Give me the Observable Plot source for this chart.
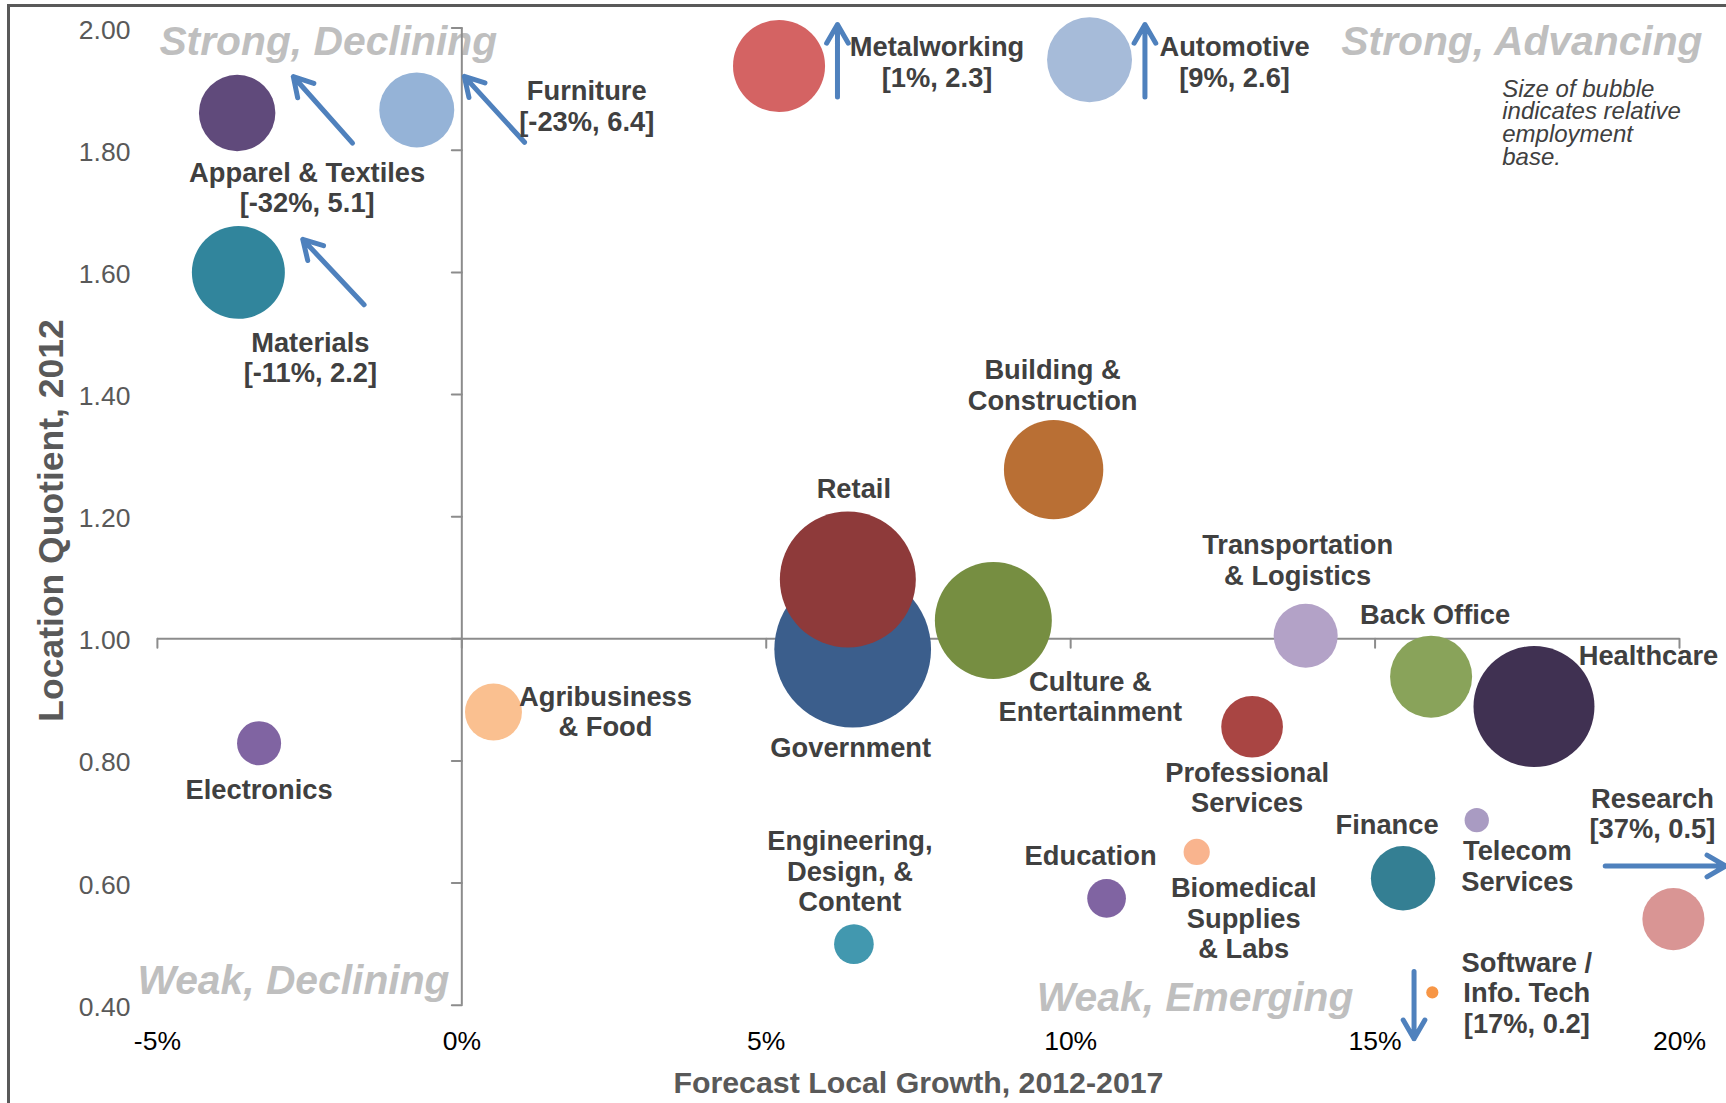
<!DOCTYPE html>
<html>
<head>
<meta charset="utf-8">
<script src="https://cdn.jsdelivr.net/npm/d3@7"></script>
<script src="https://cdn.jsdelivr.net/npm/@observablehq/plot@0.6"></script>
<style>
  html, body { margin: 0; padding: 0; background: #fff; }
  #wrap { position: relative; width: 1726px; height: 1103px; overflow: hidden; background: #fff; }
  #chart { position: absolute; left: 0; top: 0; }
  #border { position: absolute; left: 7px; top: 4px; width: 1800px; height: 1200px;
            border-left: 3px solid #595959; border-top: 3px solid #595959; pointer-events: none; }
</style>
</head>
<body>
<div id="wrap"><div id="chart"></div><div id="border"></div></div>
<script>
// ---- data ----
const clusters = [
  "Apparel & Textiles", "Furniture", "Materials", "Metalworking", "Automotive",
  "Electronics", "Agribusiness & Food", "Government", "Retail", "Culture & Entertainment",
  "Building & Construction", "Engineering, Design, & Content", "Education",
  "Transportation & Logistics", "Back Office", "Healthcare", "Professional Services",
  "Telecom Services", "Biomedical Supplies & Labs", "Finance", "Research", "Software / Info. Tech"
];
// plotted forecast local growth 2012-2017 (%) (off-chart clusters are shown at the chart edge)
const growth = [-3.69, -0.74, -3.67, 5.21, 10.31, -3.33, 0.52, 6.42, 6.34, 8.73, 9.72,
                6.44, 10.59, 13.86, 15.92, 17.61, 12.98, 16.67, 12.07, 15.46, 19.90, 15.94];
// plotted location quotient 2012
const locationQuotient = [1.861, 1.866, 1.600, 1.938, 1.948, 0.829, 0.880, 0.983, 1.097, 1.030, 1.277,
                          0.500, 0.575, 1.005, 0.938, 0.889, 0.856, 0.703, 0.651, 0.608, 0.541, 0.421];
// relative employment base (index, Government = 100)
const employment = [23.8, 22.9, 35.2, 34.5, 29.4, 7.9, 13.2, 100, 75.3, 55.7, 40.2,
                    6.4, 6.1, 16.7, 27.4, 59.6, 15.5, 2.4, 2.8, 16.9, 15.7, 0.6];
const labelTexts = [
  "Apparel & Textiles\n[-32%, 5.1]", "Furniture\n[-23%, 6.4]", "Materials\n[-11%, 2.2]",
  "Metalworking\n[1%, 2.3]", "Automotive\n[9%, 2.6]", "Electronics", "Agribusiness\n& Food",
  "Government", "Retail", "Culture &\nEntertainment", "Building &\nConstruction",
  "Engineering,\nDesign, &\nContent", "Education", "Transportation\n& Logistics", "Back Office",
  "Healthcare", "Professional\nServices", "Telecom\nServices", "Biomedical\nSupplies\n& Labs",
  "Finance", "Research\n[37%, 0.5]", "Software /\nInfo. Tech\n[17%, 0.2]"
];
const xTicks = [-5, 0, 5, 10, 15, 20];
const yTicks = [0.4, 0.6, 0.8, 1.0, 1.2, 1.4, 1.6, 1.8, 2.0];
const quadrantLabels = ["Strong, Declining", "Strong, Advancing", "Weak, Declining", "Weak, Emerging"];
const noteText = "Size of bubble\nindicates relative\nemployment\nbase.";
// arrows pointing toward off-chart true positions (data units)
const arrowAnnotations = [
  {x1: -1.795, y1: 1.8115, x2: -2.768, y2: 1.9207},
  {x1: 1.03, y1: 1.813, x2: 0.041, y2: 1.921},
  {x1: -1.605, y1: 1.547, x2: -2.612, y2: 1.654},
  {x1: 6.17, y1: 1.887, x2: 6.17, y2: 2.006},
  {x1: 11.22, y1: 1.887, x2: 11.22, y2: 2.006},
  {x1: 18.78, y1: 0.628, x2: 20.76, y2: 0.628},
  {x1: 15.64, y1: 0.455, x2: 15.64, y2: 0.345}
];

// ---- styles ----
const bubbleColors = ["#604A7B","#95B3D7","#31859C","#D46363","#A6BBD9","#8064A2","#FAC090",
  "#3B5E8C","#8E3A3A","#768E41","#B96F34","#4298AF","#8064A2","#B3A2C7","#89A35A","#403152",
  "#A94543","#A99BC2","#F9B48E","#347F93","#D99594","#F79646"];
// label offsets from bubble centre, in pixels
const labelOffsets = [[70,75.5],[170,-3],[72,86],[158,-3],[145,3],[0,47],[112,0],[-2,99.5],
  [6,-90.5],[97,77],[-1,-84],[-4,-72],[-16,-42],[-8,-75],[4,-61],[114.5,-50.5],[-5,61.5],
  [40.6,46.5],[47,67],[-16,-53],[-21,-105],[94.5,1]];

const axisGray = "#8C8C8C";
const labelColor = "#404040";
const font = "'Liberation Sans', Arial, sans-serif";

const bubbles = clusters.map((name, i) => ({
  name, x: growth[i], y: locationQuotient[i], size: employment[i], color: bubbleColors[i], i
}));

const labelMarks = bubbles.map((b, i) => Plot.text([b], {
  x: "x", y: "y", text: d => labelTexts[d.i],
  dx: labelOffsets[i][0], dy: labelOffsets[i][1] - 1,
  fontSize: 27.3, fontWeight: "bold", fill: labelColor,
  textAnchor: "middle", lineAnchor: "middle", lineHeight: 1.117
}));

const quadStyle = {fontSize: 40.8, fontWeight: "bold", fontStyle: "italic", fill: "#BFBFBF", lineHeight: 1, text: d => d};

const chart = Plot.plot({
  width: 1726, height: 1103,
  marginLeft: 156.9, marginRight: 47, marginTop: 27.6, marginBottom: 98.3,
  x: {domain: [-5, 20]},
  y: {domain: [0.4, 2.0]},
  r: {type: "sqrt", domain: [0, 100], range: [0, 78.35]},
  style: {fontFamily: font, background: "white", overflow: "visible"},
  marks: [
    // quadrant labels
    Plot.text([quadrantLabels[0]], {...quadStyle, frameAnchor: "top-left", textAnchor: "start", lineAnchor: "top", dx: 2, dy: -2}),
    Plot.text([quadrantLabels[1]], {...quadStyle, frameAnchor: "top-right", textAnchor: "end", lineAnchor: "top", dx: 23, dy: -2}),
    Plot.text([quadrantLabels[2]], {...quadStyle, frameAnchor: "bottom-left", textAnchor: "start", lineAnchor: "bottom", dx: -20, dy: -11.4}),
    Plot.text([quadrantLabels[3]], {...quadStyle, frameAnchor: "bottom", textAnchor: "end", lineAnchor: "bottom", dx: 435, dy: 6}),
    // axes crossing at (0%, 1.00)
    Plot.ruleY([1], {x1: -5, x2: 20, stroke: axisGray, strokeWidth: 2}),
    Plot.ruleX([0], {y1: 0.4, y2: 2.0, stroke: axisGray, strokeWidth: 2}),
    Plot.vector(xTicks, {x: d => d, y: () => 1, length: 9, rotate: 180, anchor: "start", r: 0, stroke: axisGray, strokeWidth: 2}),
    Plot.vector(yTicks, {x: () => 0, y: d => d, length: 10, rotate: 270, anchor: "start", r: 0, stroke: axisGray, strokeWidth: 2}),
    Plot.axisY({ticks: yTicks, tickFormat: d3.format(".2f"), tickSize: 0, tickPadding: 27, dy: 2,
                fontSize: 26.5, color: "#595959", label: null}),
    Plot.axisX({ticks: xTicks, tickFormat: d => d + "%", tickSize: 0, tickPadding: 26,
                fontSize: 26.5, color: "#000000", label: null}),
    // axis titles
    Plot.text(["Forecast Local Growth, 2012-2017"], {text: d => d, frameAnchor: "bottom", dy: 78.3,
                fontSize: 30.3, fontWeight: "bold", fill: "#595959", lineAnchor: "middle"}),
    Plot.text(["Location Quotient, 2012"], {text: d => d, frameAnchor: "left", dx: -106.2, dy: 205,
                rotate: -90, fontSize: 35.5, fontWeight: "bold", fill: "#595959", lineAnchor: "middle"}),
    // note
    Plot.text([noteText], {text: d => d, frameAnchor: "top-right", textAnchor: "start", lineAnchor: "top",
                dx: -177.3, dy: 52.2, fontSize: 24, fontStyle: "italic", fill: labelColor, lineHeight: 0.95}),
    // bubbles
    Plot.dot(bubbles, {x: "x", y: "y", r: "size", fill: "color", stroke: "none"}),
    // arrows
    Plot.arrow(arrowAnnotations, {x1: "x1", y1: "y1", x2: "x2", y2: "y2", stroke: "#4F81BD",
                strokeWidth: 5, headLength: 6.5, headAngle: 60}),
    ...labelMarks
  ]
});
document.getElementById("chart").appendChild(chart);
</script>
</body>
</html>
